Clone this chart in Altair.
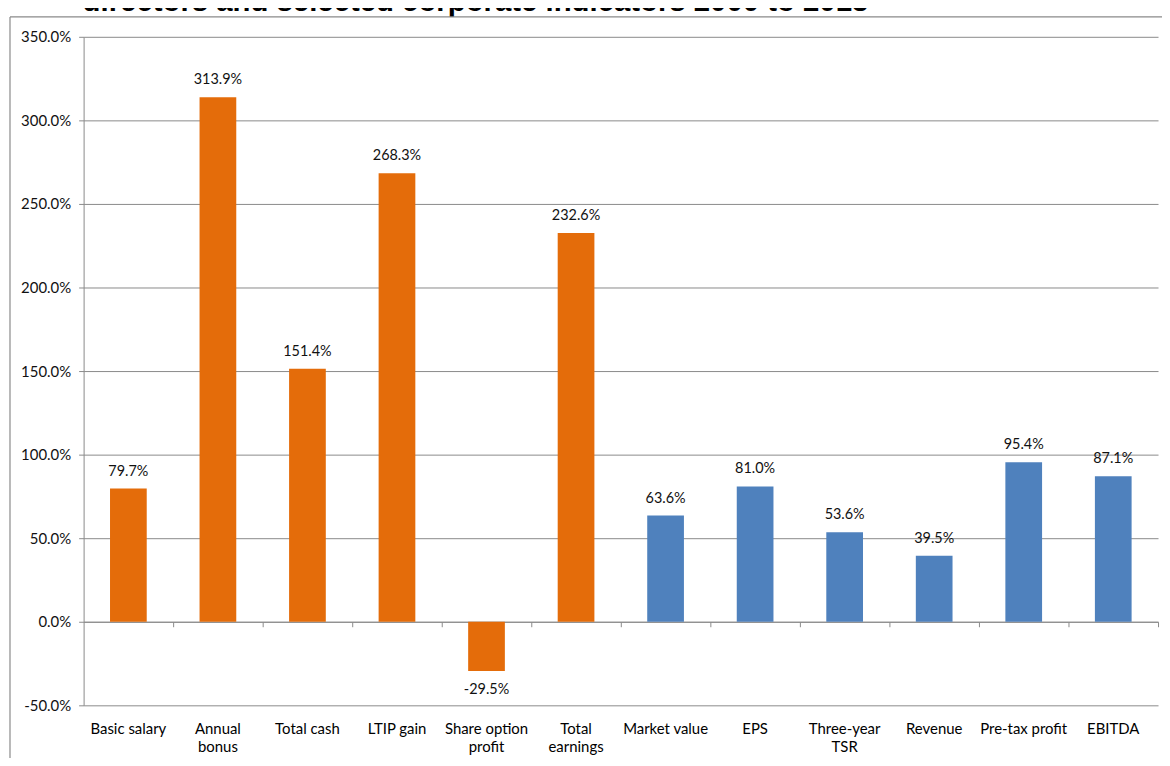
import altair as alt
import pandas as pd

# change 2000-2013, in percent
categories = ["Basic salary", "Annual bonus", "Total cash", "LTIP gain",
              "Share option profit", "Total earnings", "Market value", "EPS",
              "Three-year TSR", "Revenue", "Pre-tax profit", "EBITDA"]
# same names, broken onto lines the way the axis shows them ("|" = new line)
axis_labels = ["Basic salary", "Annual|bonus", "Total cash", "LTIP gain",
               "Share option|profit", "Total|earnings", "Market value", "EPS",
               "Three-year|TSR", "Revenue", "Pre-tax profit", "EBITDA"]
change_pct = [79.7, 313.9, 151.4, 268.3, -29.5, 232.6,
              63.6, 81.0, 53.6, 39.5, 95.4, 87.1]
groups = ["pay", "pay", "pay", "pay", "pay", "pay",
          "company", "company", "company", "company", "company", "company"]
group_names = ["pay", "company"]
group_colors = ["#E46C0A", "#4F81BD"]
y_ticks = [-50, 0, 50, 100, 150, 200, 250, 300, 350]
title_text = "directors and selected corporate indicators 2000 to 2013"

GRID = "#8a8a8a"
FONT = "Lato"
# percent with a plain hyphen for negatives, as Excel writes it
PCT = "(datum.{f} < 0 ? '-' : '') + format(abs(datum.{f}), '.1f') + '%'"

df = pd.DataFrame({"item": axis_labels, "name": categories,
                   "change": change_pct, "group": groups})

x_scale = alt.Scale(paddingInner=0.59, paddingOuter=0.295)

y_enc = alt.Y(
    "change:Q",
    scale=alt.Scale(domain=[-50, 350], nice=False),
    title=None,
    axis=alt.Axis(values=y_ticks, labelExpr=PCT.format(f="value"),
                  grid=True, gridColor=GRID, domainColor=GRID, tickColor=GRID,
                  tickSize=5, labelPadding=8, labelFont=FONT, labelFontSize=15,
                  labelColor="#111111")
)

# bars, with the tick axis sitting on the zero line (ticks between categories)
bars = alt.Chart(df).mark_bar().encode(
    x=alt.X("item:N", sort=axis_labels, scale=x_scale, title=None,
            axis=alt.Axis(orient="bottom", offset=-84, labels=False, grid=False,
                          domainColor=GRID, tickColor=GRID, tickSize=5,
                          tickOffset=45)),
    y=y_enc,
    color=alt.Color("group:N", scale=alt.Scale(domain=group_names, range=group_colors),
                    legend=None),
    tooltip=["name:N", "change:Q"]
)

# value labels above positive bars; this layer carries the category labels at the bottom
pos_labels = alt.Chart(df).transform_filter("datum.change >= 0").transform_calculate(
    txt=PCT.format(f="change")
).mark_text(baseline="middle", dy=-17, font=FONT, fontSize=14.5, color="#111111").encode(
    x=alt.X("item:N", sort=axis_labels, scale=x_scale, title=None,
            axis=alt.Axis(orient="bottom", labelExpr="split(datum.label, '|')",
                          labelLineHeight=18, labelAngle=0, ticks=False, tickSize=0,
                          domain=False, grid=False, labelPadding=16,
                          labelBaseline="top", labelFont=FONT, labelFontSize=15,
                          labelColor="#000000")),
    y=y_enc,
    text="txt:N"
)

# value label under the negative bar
neg_labels = alt.Chart(df).transform_filter("datum.change < 0").transform_calculate(
    txt=PCT.format(f="change")
).mark_text(baseline="middle", dy=19, font=FONT, fontSize=14.5, color="#111111").encode(
    x=alt.X("item:N", sort=axis_labels, scale=x_scale, axis=None),
    y=y_enc,
    text="txt:N"
)

# title line, cut off at the top like the source picture
title = alt.Chart(pd.DataFrame({"t": [title_text]})).mark_text(
    align="left", baseline="alphabetic", font="Liberation Sans", fontSize=29.5,
    fontWeight="bold", color="#000000"
).encode(text="t:N", x=alt.value(-1), y=alt.value(-26))

# chart-area border (top and left edges)
one = pd.DataFrame({"a": [0]})
border_top = alt.Chart(one).mark_rule(color=GRID, strokeWidth=1.2).encode(
    x=alt.value(-74), x2=alt.value(1100), y=alt.value(-20))
border_left = alt.Chart(one).mark_rule(color=GRID, strokeWidth=1.2).encode(
    x=alt.value(-74), y=alt.value(-20), y2=alt.value(800))

chart = alt.layer(
    bars, pos_labels, neg_labels, title, border_top, border_left
).resolve_axis(
    x="independent"
).properties(
    width=1080,
    height=672,
    autosize=alt.AutoSizeParams(type="none"),
    padding={"left": 76, "top": 27, "right": 4, "bottom": 51}
).configure_view(
    stroke=None
)

chart.save("out.html", embed_options={"renderer": "svg", "actions": False})
